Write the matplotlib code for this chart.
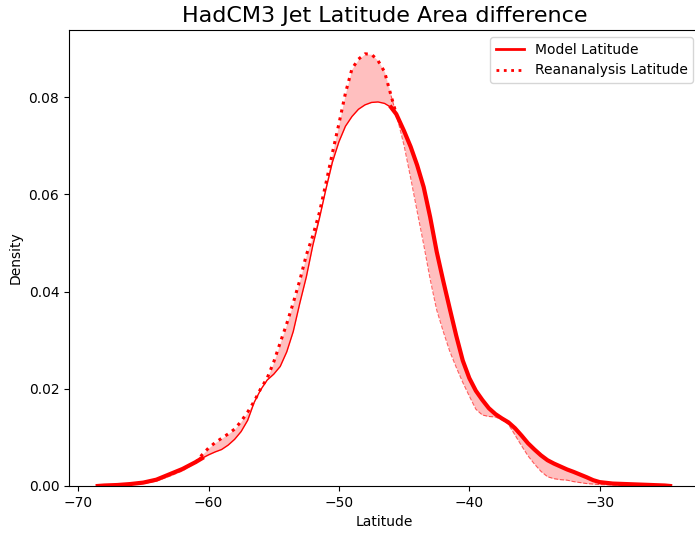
import numpy as np
import matplotlib
matplotlib.use("Agg")
import matplotlib.pyplot as plt

# latitude grid (deg) and density values
lat = [-68.5, -68, -67, -66, -65, -64, -63, -62, -61, -60.5, -60, -59.5, -59,
       -58.5, -58, -57.5, -57, -56.5, -56, -55.5, -55, -54.5, -54, -53.5, -53,
       -52.5, -52, -51.5, -51, -50.5, -50, -49.5, -49, -48.5, -48, -47.5, -47,
       -46.5, -46, -45.6, -45, -44.5, -44, -43.5, -43, -42.5, -42, -41.5, -41,
       -40.5, -40, -39.5, -39, -38.5, -38, -37.5, -37, -36.5, -36, -35.5, -35,
       -34.5, -34, -33.5, -33, -32.5, -32, -31, -30.5, -30, -29, -28, -27, -26,
       -25, -24.6]
model = [0.0, 0.0001, 0.0002, 0.0004, 0.0007, 0.0013, 0.0024, 0.0035, 0.0049,
         0.0057, 0.0064, 0.0070, 0.0075, 0.0084, 0.0096, 0.0112, 0.0135, 0.0172,
         0.0198, 0.0218, 0.0230, 0.0246, 0.0276, 0.0318, 0.0376, 0.0430, 0.0495,
         0.0550, 0.0610, 0.0666, 0.0708, 0.0740, 0.0760, 0.0775, 0.0784, 0.0789,
         0.0790, 0.0787, 0.0779, 0.0765, 0.0730, 0.0698, 0.0660, 0.0615, 0.0553,
         0.0482, 0.0422, 0.0365, 0.0309, 0.0258, 0.0222, 0.0196, 0.0177, 0.0160,
         0.0148, 0.0139, 0.0131, 0.0119, 0.0104, 0.0088, 0.0075, 0.0063, 0.0053,
         0.0046, 0.0040, 0.0034, 0.0029, 0.0018, 0.0012, 0.0008, 0.0005, 0.0004,
         0.0003, 0.0002, 0.0001, 0.0]
reanalysis = [0.0, 0.0001, 0.0002, 0.0003, 0.0005, 0.0010, 0.0020, 0.0031,
              0.0048, 0.0064, 0.0078, 0.0089, 0.0098, 0.0107, 0.0117, 0.0133,
              0.0152, 0.0174, 0.0200, 0.0222, 0.0255, 0.0295, 0.0334, 0.0377,
              0.0423, 0.0475, 0.0515, 0.0562, 0.0622, 0.0685, 0.0745, 0.0808,
              0.0858, 0.0878, 0.0889, 0.0888, 0.0875, 0.0852, 0.0803, 0.0765,
              0.0700, 0.0634, 0.0565, 0.0497, 0.0425, 0.0362, 0.0318, 0.0277,
              0.0244, 0.0213, 0.0185, 0.0158, 0.0146, 0.0143, 0.0142, 0.0136,
              0.0127, 0.0105, 0.0083, 0.0062, 0.0045, 0.0030, 0.0019, 0.0015,
              0.0013, 0.0012, 0.0009, 0.0005, 0.0004, 0.0003, 0.0002, 0.0001,
              0.0, 0.0, 0.0, 0.0]

x = np.array(lat)
m = np.array(model)
r = np.array(reanalysis)

# which curve is on top, grown by one point so segments join at crossings
m_top = m >= r
m_top_wide = m_top.copy()
m_top_wide[1:] |= m_top[:-1]
m_top_wide[:-1] |= m_top[1:]
r_top = ~m_top
r_top_wide = r_top.copy()
r_top_wide[1:] |= r_top[:-1]
r_top_wide[:-1] |= r_top[1:]

fig = plt.figure(figsize=(6.95, 5.33), dpi=100)
# right spine falls just outside the canvas, as in the reference
ax = fig.add_axes([0.0993, 0.0882, 0.908, 0.8555])

ax.fill_between(x, m, r, color="red", alpha=0.25, linewidth=0)

# model: thick where above, thin where below
ax.plot(x, np.ma.masked_where(~m_top_wide, m), color="red", lw=3)
ax.plot(x, np.ma.masked_where(~r_top_wide, m), color="red", lw=1)
# reanalysis: thick dotted where above, thin dashed where below
ax.plot(x, np.ma.masked_where(~r_top_wide, r), color="red", lw=2.2, ls=":")
ax.plot(x, np.ma.masked_where(~m_top_wide, r), color="red", lw=0.8, ls="--",
        alpha=0.6)

# legend handles
ax.plot([], [], color="red", lw=2, label="Model Latitude")
ax.plot([], [], color="red", lw=2, ls=":", label="Reananalysis Latitude")
ax.legend(loc="upper right")

ax.set_xlim(-70.7, -22.3)
ax.set_ylim(0, 0.0938)
ax.set_xticks([-70, -60, -50, -40, -30])
ax.set_yticks([0, 0.02, 0.04, 0.06, 0.08])
ax.set_xlabel("Latitude")
ax.set_ylabel("Density")
ax.set_title("HadCM3 Jet Latitude Area difference", fontsize=16)

fig.savefig("out.png", dpi=100)
